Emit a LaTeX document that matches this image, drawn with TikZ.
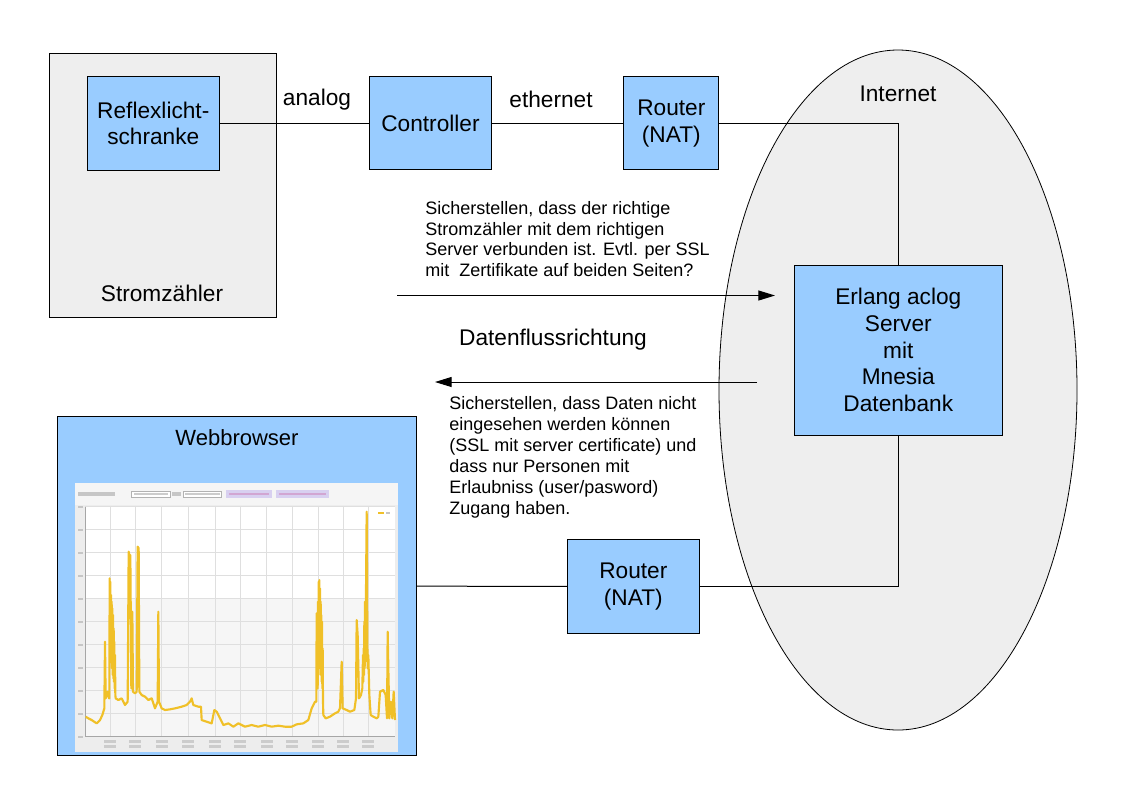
\documentclass[tikz,border=0pt]{standalone}
\usepackage{fontspec}
\setmainfont{Liberation Sans}
\usetikzlibrary{shapes.geometric,arrows.meta}
\definecolor{lblue}{RGB}{153,204,255}
\definecolor{bggrey}{RGB}{238,238,238}
\definecolor{plotyellow}{RGB}{240,192,40}
\definecolor{btnlav}{RGB}{216,208,240}
\tikzset{
  box/.style={draw, fill=lblue, line width=0.75pt, inner sep=0pt, align=center, font=\fontsize{17}{20}\selectfont},
  lab/.style={inner sep=0pt, align=center, font=\fontsize{17}{20}\selectfont},
  note/.style={inner sep=0pt, align=left, anchor=west},
  conn/.style={line width=0.75pt},
  arr/.style={line width=0.75pt, -{Triangle[length=12.5pt,width=7.5pt]}},
}
\begin{document}
\begin{tikzpicture}[x=0.75pt,y=-0.75pt]
\useasboundingbox[fill=white] (0,0) rectangle (1123,794);

% Internet ellipse
\node[draw, ellipse, fill=bggrey, line width=0.6pt, minimum width=268.5pt, minimum height=510pt, inner sep=0pt] (inet) at (898,390) {};
\node[lab] (inetlab) at (898,94) {Internet};

% Stromzaehler
\node[draw, fill=bggrey, line width=0.75pt, minimum width=170.7pt, minimum height=198pt, inner sep=0pt] (strom) at (162.8,185) {};
\node[lab] (stromlab) at (162,293) {Stromzähler};

% boxes
\node[box, minimum width=99.4pt, minimum height=70.5pt] (reflex) at (153.3,123.3) {Reflexlicht-\\schranke};
\node[box, minimum width=90.8pt, minimum height=69.8pt] (ctrl) at (430.5,123.3) {Controller};
\node[box, minimum width=71pt, minimum height=69.8pt] (router1) at (671.3,123.3) {Router\\(NAT)};
\node[box, minimum width=156.4pt, minimum height=127.2pt] (erlang) at (898.3,350.2) {Erlang aclog\\Server\\mit\\Mnesia\\Datenbank};
\node[box, minimum width=99pt, minimum height=70.5pt] (router2) at (633.3,586.3) {Router\\(NAT)};
\node[draw, fill=lblue, line width=0.75pt, minimum width=269.3pt, minimum height=254.3pt, inner sep=0pt] (web) at (237.2,586.2) {};
\node[lab, font=\fontsize{16.5}{20}\selectfont] (weblab) at (237,438) {Webbrowser};

% connectors
\draw[conn] (reflex.east) -- (ctrl.west);
\draw[conn] (ctrl.east) -- (router1.west);
\draw[conn] (router1.east) -| (erlang.north);
\draw[conn] (erlang.south) |- (router2.east);
\draw[conn] (router2.west) -- (web.east);
\node[lab] (analog) at (317,100) {analog};
\node[lab] (ether) at (551,99.5) {ethernet};

% data flow arrows
\coordinate (a1s) at (397,295.5);
\coordinate (a1e) at (775,295.5);
\draw[arr] (a1s) -- (a1e);
\coordinate (a2s) at (757,382);
\coordinate (a2e) at (435,382);
\draw[arr] (a2s) -- (a2e);
\node[lab] (dfr) at (553,340) {Datenflussrichtung};

\node[note, font=\fontsize{13.5}{15.6}\selectfont] (note1) at (425,239) {Sicherstellen, dass der richtige\\Stromzähler mit dem richtigen\\Server verbunden ist. Evtl. per SSL\\mit\ \ Zertifikate auf beiden Seiten?};
\node[note, font=\fontsize{13.5}{15.75}\selectfont] (note2) at (449,457.5) {Sicherstellen, dass Daten nicht\\eingesehen werden können\\(SSL mit server certificate) und\\dass nur Personen mit\\Erlaubniss (user/pasword)\\Zugang haben.};

% screenshot inside the web browser box
\begin{scope}[shift={(55,415)}, x=0.25pt, y=-0.25pt]
  \fill[gray!14] (60,205) rectangle (1030,1010);
  \fill[gray!8] (60,205) rectangle (1030,270);
  % toolbar
  \fill[gray!45] (70,232) rectangle (180,244);
  \draw[gray!60, fill=white, line width=0.3pt] (230,228) rectangle (345,247);
  \fill[gray!40] (236,234) rectangle (338,241);
  \fill[gray!45] (352,232) rectangle (378,244);
  \draw[gray!60, fill=white, line width=0.3pt] (385,228) rectangle (500,247);
  \fill[gray!40] (390,234) rectangle (494,241);
  \fill[btnlav] (512,226) rectangle (652,249);
  \fill[violet!35] (522,234) rectangle (642,241);
  \fill[btnlav] (662,226) rectangle (822,249);
  \fill[violet!35] (672,234) rectangle (812,241);
  % plot area
  \fill[white] (90,275) rectangle (1020,965);
  \fill[gray!7] (90,550) rectangle (1020,965);
  \foreach \gx in {165,240,320,400,480,555,635,712,790,865,940}
    \draw[gray!25, line width=0.3pt] (\gx,275) -- (\gx,965);
  \foreach \k in {0,...,10}
    \draw[gray!25, line width=0.3pt] (90,275+69*\k) -- (1020,275+69*\k);
  \draw[gray!70, line width=0.4pt] (90,275) -- (90,965) -- (1020,965);
  \foreach \k in {0,...,10}
    \fill[gray!45] (70,272+69*\k) rectangle (84,279+69*\k);
  \foreach \gx in {165,240,320,400,480,555,635,712,790,865,940}
    {\fill[gray!40] (\gx-18,976) rectangle (\gx+18,984);
     \fill[gray!40] (\gx-18,991) rectangle (\gx+18,999);}
  % legend
  \fill[plotyellow] (968,290) rectangle (988,297);
  \fill[gray!45] (992,291) rectangle (1004,296);
  % data
  \draw[plotyellow, line width=1.6pt, line join=round]
    (92,905) -- (100,910) -- (110,915) -- (125,925) -- (135,915) -- (142,900) -- (148,880) -- (150,680) -- (152,850) -- (158,830) -- (162,850)
    -- (163,850) -- (164,490) -- (165,700) -- (166,500) -- (167,720) -- (168,540) -- (169,740) -- (170,560) -- (171,760) -- (172,580) -- (173,780) -- (174,600) -- (175,790) -- (176,640) -- (177,800) -- (178,680) -- (179,820) -- (180,720) -- (181,840) -- (182,850)
    -- (190,855) -- (200,850) -- (210,870) -- (218,860) -- (221,410) -- (223,420) -- (226,420) -- (229,820) -- (232,590) -- (234,830) -- (240,835) -- (245,830) -- (248,395) -- (251,400) -- (253,830) -- (260,840) -- (270,845) -- (280,855) -- (290,850) -- (295,865) -- (300,880) -- (308,860) -- (310,590) -- (312,860) -- (320,880) -- (330,885) -- (345,883) -- (360,880) -- (380,875) -- (395,870) -- (405,860) -- (410,850) -- (415,870) -- (430,875) -- (438,875) -- (440,915) -- (455,920) -- (470,925) -- (478,885) -- (485,890) -- (495,910) -- (505,930) -- (520,925) -- (535,935) -- (550,925) -- (570,935) -- (590,930) -- (610,935) -- (630,930) -- (650,935) -- (670,932) -- (690,935) -- (710,935) -- (725,928) -- (745,925) -- (760,915) -- (770,880) -- (775,870) -- (780,860)
    -- (784,860) -- (785,595) -- (786,800) -- (787,600) -- (788,820) -- (789,560) -- (790,780) -- (791,500) -- (792,760) -- (793,495) -- (794,740) -- (795,520) -- (796,760) -- (797,560) -- (798,780) -- (799,600) -- (800,800) -- (801,620) -- (802,820) -- (803,700) -- (804,860) -- (805,900)
    -- (812,910) -- (825,905) -- (840,895) -- (850,890) -- (855,880) -- (860,740) -- (863,880) -- (875,885) -- (885,890) -- (898,885) -- (903,850) -- (905,615) -- (908,660) -- (912,850) -- (918,840) -- (922,820) -- (924,720) -- (925,800) -- (926,700) -- (927,780) -- (928,620) -- (929,760) -- (930,560) -- (931,740) -- (932,650) -- (935,290) -- (937,680) -- (938,760) -- (940,720) -- (943,840) -- (947,900) -- (955,905) -- (965,910) -- (970,905) -- (975,830) -- (985,825) -- (992,840) -- (996,910) -- (998,650) -- (1000,760) -- (1003,910) -- (1008,860) -- (1012,910) -- (1016,830) -- (1020,915);
\end{scope}
\end{tikzpicture}
\end{document}
